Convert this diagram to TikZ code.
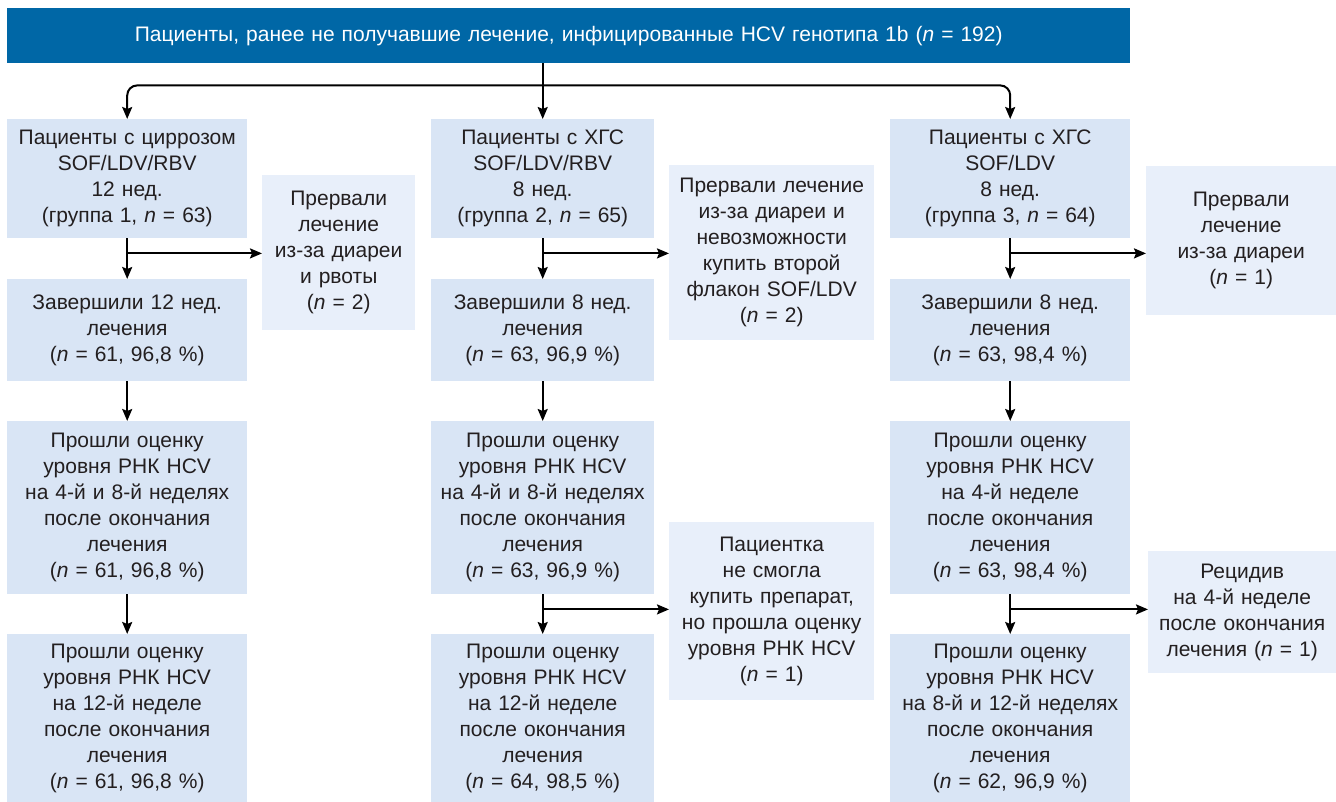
\documentclass[tikz,border=0pt]{standalone}
\usepackage{fontspec}
\setmainfont{Liberation Sans}
\usepackage{tikz}
\usetikzlibrary{arrows.meta, positioning, calc}

\definecolor{headblue}{RGB}{0,103,166}
\definecolor{boxblue}{RGB}{217,229,245}
\definecolor{sideblue}{RGB}{232,239,250}
\definecolor{ink}{RGB}{35,31,32}

\begin{document}
\begin{tikzpicture}[
    x=1pt, y=-1pt,
    font=\fontsize{21}{26}\selectfont,
    box/.style={anchor=north west, inner sep=0pt, align=center, text=ink, fill=boxblue},
    sidebox/.style={box, fill=sideblue},
    arr/.style={-{Stealth[length=12pt, width=10pt, inset=2pt]}, line width=2pt, draw=black}
]
    \useasboundingbox (0,0) rectangle (1336,802);

    \node[box, fill=headblue, text=white, text width=1123pt, minimum height=55pt] (top) at (7,8)
        {Пациенты, ранее не получавшие лечение, инфицированные HCV генотипа 1b (\textit{n} = 192)};

    % group 1
    \node[box, text width=240pt, minimum height=119pt] (g1a) at (7,119)
        {Пациенты с циррозом\\SOF/LDV/RBV\\12 нед.\\(группа 1, \textit{n} = 63)};
    \node[box, text width=240pt, minimum height=102pt] (g1b) at (7,279)
        {Завершили 12 нед.\\лечения\\(\textit{n} = 61, 96,8~\%)};
    \node[box, text width=240pt, minimum height=173pt] (g1c) at (7,421)
        {Прошли оценку\\уровня РНК HCV\\на 4-й и 8-й неделях\\после окончания\\лечения\\(\textit{n} = 61, 96,8~\%)};
    \node[box, text width=240pt, minimum height=168pt] (g1d) at (7,634)
        {Прошли оценку\\уровня РНК HCV\\на 12-й неделе\\после окончания\\лечения\\(\textit{n} = 61, 96,8~\%)};
    \node[sidebox, text width=153pt, minimum height=155pt] (d1) at (262,175)
        {Прервали\\лечение\\из-за диареи\\и рвоты\\(\textit{n} = 2)};

    % group 2
    \node[box, text width=223pt, minimum height=119pt] (g2a) at (431,119)
        {Пациенты с ХГС\\SOF/LDV/RBV\\8 нед.\\(группа 2, \textit{n} = 65)};
    \node[box, text width=223pt, minimum height=102pt] (g2b) at (431,279)
        {Завершили 8 нед.\\лечения\\(\textit{n} = 63, 96,9~\%)};
    \node[box, text width=223pt, minimum height=173pt] (g2c) at (431,421)
        {Прошли оценку\\уровня РНК HCV\\на 4-й и 8-й неделях\\после окончания\\лечения\\(\textit{n} = 63, 96,9~\%)};
    \node[box, text width=223pt, minimum height=168pt] (g2d) at (431,634)
        {Прошли оценку\\уровня РНК HCV\\на 12-й неделе\\после окончания\\лечения\\(\textit{n} = 64, 98,5~\%)};
    \node[sidebox, text width=205pt, minimum height=175pt] (d2) at (669,165)
        {Прервали лечение\\из-за диареи и\\невозможности\\купить второй\\флакон SOF/LDV\\(\textit{n} = 2)};
    \node[sidebox, text width=205pt, minimum height=178pt] (d4) at (669,522)
        {Пациентка\\не смогла\\купить препарат,\\но прошла оценку\\уровня РНК HCV\\(\textit{n} = 1)};

    % group 3
    \node[box, text width=240pt, minimum height=119pt] (g3a) at (890,119)
        {Пациенты с ХГС\\SOF/LDV\\8 нед.\\(группа 3, \textit{n} = 64)};
    \node[box, text width=240pt, minimum height=102pt] (g3b) at (890,279)
        {Завершили 8 нед.\\лечения\\(\textit{n} = 63, 98,4~\%)};
    \node[box, text width=240pt, minimum height=173pt] (g3c) at (890,421)
        {Прошли оценку\\уровня РНК HCV\\на 4-й неделе\\после окончания\\лечения\\(\textit{n} = 63, 98,4~\%)};
    \node[box, text width=240pt, minimum height=168pt] (g3d) at (890,634)
        {Прошли оценку\\уровня РНК HCV\\на 8-й и 12-й неделях\\после окончания\\лечения\\(\textit{n} = 62, 96,9~\%)};
    \node[sidebox, text width=190pt, minimum height=149pt] (d3) at (1146,166)
        {Прервали\\лечение\\из-за диареи\\(\textit{n} = 1)};
    \node[sidebox, text width=188pt, minimum height=122pt] (d5) at (1148,551)
        {Рецидив\\на 4-й неделе\\после окончания\\лечения (\textit{n} = 1)};

    % split from the top box
    \coordinate (hub) at ($(top.south -| g2a.north)+(0,22)$);
    \draw[arr] (top.south -| g2a.north) -- (g2a.north);
    \draw[arr, rounded corners=10pt] (hub) -| (g1a.north);
    \draw[arr, rounded corners=10pt] (hub) -| (g3a.north);

    % down the columns
    \foreach \g in {1,2,3} {
        \draw[arr] (g\g a.south) -- (g\g b.north);
        \draw[arr] (g\g b.south) -- (g\g c.north);
        \draw[arr] (g\g c.south) -- (g\g d.north);
    }

    % side exits
    \coordinate (e1) at ($(g1a.south)+(0,15)$);
    \coordinate (e2) at ($(g2a.south)+(0,15)$);
    \coordinate (e3) at ($(g3a.south)+(0,15)$);
    \coordinate (e4) at ($(g2c.south)+(0,15)$);
    \coordinate (e5) at ($(g3c.south)+(0,15)$);
    \draw[arr] (e1) -- (e1 -| d1.west);
    \draw[arr] (e2) -- (e2 -| d2.west);
    \draw[arr] (e3) -- (e3 -| d3.west);
    \draw[arr] (e4) -- (e4 -| d4.west);
    \draw[arr] (e5) -- (e5 -| d5.west);
\end{tikzpicture}
\end{document}
